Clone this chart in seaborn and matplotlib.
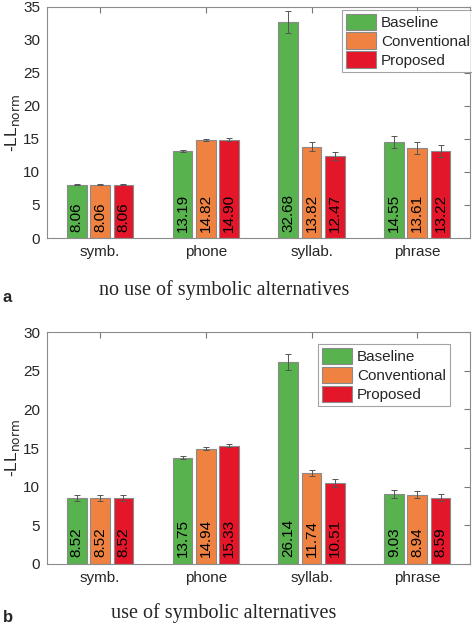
import matplotlib
matplotlib.use("Agg")
import matplotlib.pyplot as plt
import numpy as np
import pandas as pd
import seaborn as sns

units = ["symb.", "phone", "syllab.", "phrase"]
methods = ["Baseline", "Conventional", "Proposed"]
colors = ["#58b24e", "#ef8240", "#e3162a"]

# panel a: no use of symbolic alternatives
vals_a = {
    "Baseline": [8.06, 13.19, 32.68, 14.55],
    "Conventional": [8.06, 14.82, 13.82, 13.61],
    "Proposed": [8.06, 14.90, 12.47, 13.22],
}
err_a = {
    "Baseline": [0.05, 0.1, 1.65, 0.9],
    "Conventional": [0.05, 0.15, 0.68, 0.88],
    "Proposed": [0.05, 0.2, 0.63, 0.88],
}
# panel b: use of symbolic alternatives
vals_b = {
    "Baseline": [8.52, 13.75, 26.14, 9.03],
    "Conventional": [8.52, 14.94, 11.74, 8.94],
    "Proposed": [8.52, 15.33, 10.51, 8.59],
}
err_b = {
    "Baseline": [0.35, 0.2, 1.06, 0.54],
    "Conventional": [0.35, 0.15, 0.4, 0.45],
    "Proposed": [0.35, 0.15, 0.54, 0.45],
}


def to_frame(vals):
    rows = []
    for m in methods:
        for u, v in zip(units, vals[m]):
            rows.append({"unit": u, "method": m, "value": v})
    return pd.DataFrame(rows)


def draw_panel(ax, vals, errs, ymax, legend_box):
    df = to_frame(vals)
    sns.barplot(
        data=df, x="unit", y="value", hue="method", order=units,
        hue_order=methods, palette=colors, errorbar=None, width=0.66,
        gap=0.16, edgecolor="#8a8a8a", linewidth=0.8, saturation=1, ax=ax,
    )
    for cont, m in zip(ax.containers, methods):
        xs = [p.get_x() + p.get_width() / 2 for p in cont.patches]
        ax.errorbar(xs, vals[m], yerr=errs[m], fmt="none", ecolor="#555555",
                    elinewidth=0.7, capsize=2.5, capthick=0.7, zorder=5)
        for x, v in zip(xs, vals[m]):
            ax.text(x, 0.9, f"{v:.2f}", rotation=90, ha="center", va="bottom",
                    fontsize=11, color="black")
    ax.set_xlim(-0.5, 3.5)
    ax.set_ylim(0, ymax)
    ax.set_yticks(np.arange(0, ymax + 1, 5))
    ax.set_xlabel("")
    ax.set_ylabel(r"-LL$_{\mathrm{norm}}$", fontsize=12.5, labelpad=1)
    ax.tick_params(direction="in", top=True, right=True, length=4,
                   labelsize=11, color="#777777", pad=5)
    ax.tick_params(axis="x", labeltop=False)
    for s in ax.spines.values():
        s.set_color("#8c8c8c")
        s.set_linewidth(0.8)
    leg = ax.legend(loc="upper left", bbox_to_anchor=legend_box, fontsize=11,
                    frameon=True, fancybox=False, edgecolor="#8c8c8c",
                    handlelength=2.0, handleheight=1.3, handletextpad=0.3,
                    labelspacing=0.15, borderpad=0.25, borderaxespad=0)
    leg.get_frame().set_linewidth(0.8)


sns.set_style("white")
plt.rcParams["font.family"] = ["Liberation Sans", "DejaVu Sans"]

fig = plt.figure(figsize=(4.72, 6.28), dpi=100)
ax_a = fig.add_axes([0.1, 0.621, 0.896, 0.368])
ax_b = fig.add_axes([0.1, 0.102, 0.896, 0.369])

draw_panel(ax_a, vals_a, err_a, 35, (0.697, 0.988))
draw_panel(ax_b, vals_b, err_b, 30, (0.64, 0.95))

fig.text(0.006, 0.527, "a", fontsize=12, fontweight="bold", va="center")
fig.text(0.475, 0.538, "no use of symbolic alternatives", fontsize=14.5,
         family="Liberation Serif", ha="center", va="center")
fig.text(0.006, 0.016, "b", fontsize=12, fontweight="bold", va="center")
fig.text(0.474, 0.024, "use of symbolic alternatives", fontsize=14.5,
         family="Liberation Serif", ha="center", va="center")

fig.savefig("out.png", dpi=100)
